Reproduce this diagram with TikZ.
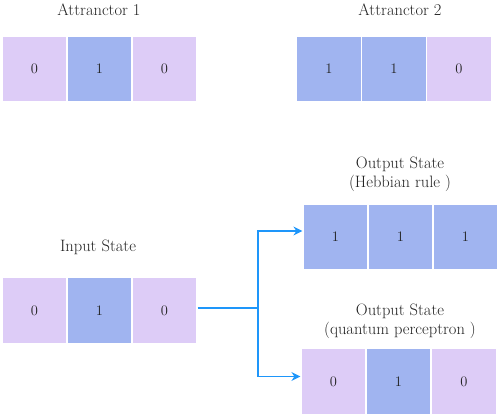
\documentclass[tikz,border=0pt]{standalone}
\usetikzlibrary{arrows.meta}
\definecolor{lav}{RGB}{221,204,247}
\definecolor{blu}{RGB}{160,180,240}
\definecolor{arr}{RGB}{30,150,250}
\definecolor{txt}{RGB}{35,35,35}
\tikzset{
  cell/.style={draw=white, line width=1.2pt, minimum width=65pt, minimum height=66pt, inner sep=0pt, font=\fontsize{14.5}{16}\selectfont, text=txt},
  zero/.style={cell, fill=lav},
  one/.style={cell, fill=blu},
  title/.style={font=\fontsize{16.5}{19}\selectfont, align=center, text=txt},
  conn/.style={draw=arr, line width=1.6pt, -{Stealth[length=9pt,width=9pt,inset=3pt]}}
}
\begin{document}
\begin{tikzpicture}[x=1pt,y=-1pt]
\useasboundingbox (0,0) rectangle (498,417);
% Attractor 1
\node[title] (t1) at (99,10) {Attranctor 1};
\node[zero] (a1) at (34.5,69) {0};
\node[one]  (a2) at (99.5,69) {1};
\node[zero] (a3) at (164.5,69) {0};
% Attractor 2
\node[title] (t2) at (400,10) {Attranctor 2};
\node[one]  (b1) at (329,69) {1};
\node[one]  (b2) at (394,69) {1};
\node[zero] (b3) at (459,69) {0};
% Input
\node[title] (ti) at (98,247) {Input State};
\node[zero] (i1) at (34.5,310.5) {0};
\node[one]  (i2) at (99.5,310.5) {1};
\node[zero] (i3) at (164.5,310.5) {0};
% Output Hebbian
\node[title] (th) at (400,174) {Output State\\(Hebbian rule )};
\node[one] (h1) at (335.5,237) {1};
\node[one] (h2) at (400.5,237) {1};
\node[one] (h3) at (465.5,237) {1};
% Output quantum
\node[title] (tq) at (400,321) {Output State\\(quantum perceptron )};
\node[zero] (q1) at (333.5,381.5) {0};
\node[one]  (q2) at (398.5,381.5) {1};
\node[zero] (q3) at (464,381.5) {0};
% connectors
\coordinate (j) at (258,308);
\draw[draw=arr, line width=1.6pt] (i3.east |- j) -- (j);
\draw[conn] (j) |- ([yshift=6pt]h1.west);
\draw[conn] (j) |- ([yshift=5pt]q1.west);
\end{tikzpicture}
\end{document}
